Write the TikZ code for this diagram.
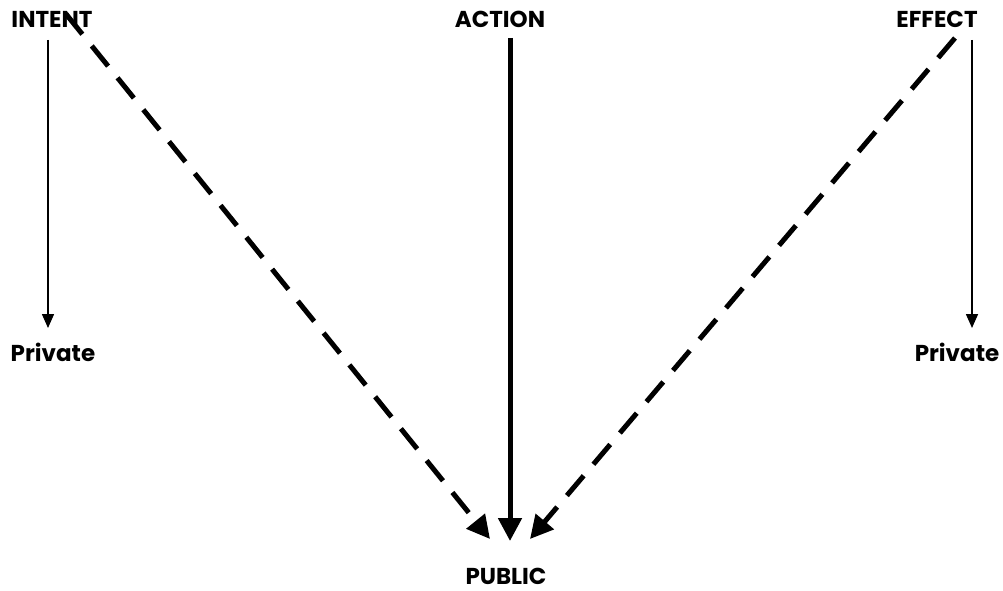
\documentclass[tikz,border=0pt]{standalone}
\usepackage{fontspec}
\setmainfont{Poppins}
\usepackage{tikz}
\usetikzlibrary{arrows.meta}
\tikzset{
  label text/.style={
    font=\fontsize{23}{26}\selectfont\bfseries,
    inner sep=0pt
  },
  thin arrow/.style={
    -{Triangle[length=14pt, width=12pt]},
    line width=1.6pt
  },
  main arrow/.style={
    -{Triangle[length=23pt, width=23pt]},
    line width=5pt
  },
  dash arrow/.style={
    -{Triangle[length=23pt, width=23pt]},
    line width=5pt,
    dash pattern=on 26pt off 15pt
  }
}

\begin{document}
\begin{tikzpicture}[x=1pt, y=-1pt]

  \useasboundingbox (0,0) rectangle (1003,591);

  %% ---- 标题 ----
  \node[label text] (intent) at (52, 19)  {INTENT};
  \node[label text] (action) at (500, 19) {ACTION};
  \node[label text] (effect) at (937, 19) {EFFECT};

  %% ---- 私有 / 公开 ----
  \node[label text] (privL)  at (53, 352)  {Private};
  \node[label text] (privR)  at (957, 352) {Private};
  \node[label text] (public) at (506, 576) {PUBLIC};

  %% ---- 端点 ----
  \coordinate (intentTop) at (66, 14);
  \coordinate (intentOut) at (48, 40);
  \coordinate (privLIn)   at (48, 328);
  \coordinate (effectTop) at (955, 38);
  \coordinate (effectOut) at (972, 40);
  \coordinate (privRIn)   at (972, 328);
  \coordinate (actionTop) at (510, 38);
  \coordinate (publicL)   at (490, 539);
  \coordinate (publicM)   at (510, 541);
  \coordinate (publicR)   at (530, 539);

  %% ---- 细箭头：私有 ----
  \draw[thin arrow] (intentOut) -- (privLIn);
  \draw[thin arrow] (effectOut) -- (privRIn);

  %% ---- 粗箭头：公开 ----
  \draw[main arrow] (actionTop) -- (publicM);
  \draw[dash arrow] (intentTop) -- (publicL);
  \draw[dash arrow] (effectTop) -- (publicR);

\end{tikzpicture}
\end{document}
